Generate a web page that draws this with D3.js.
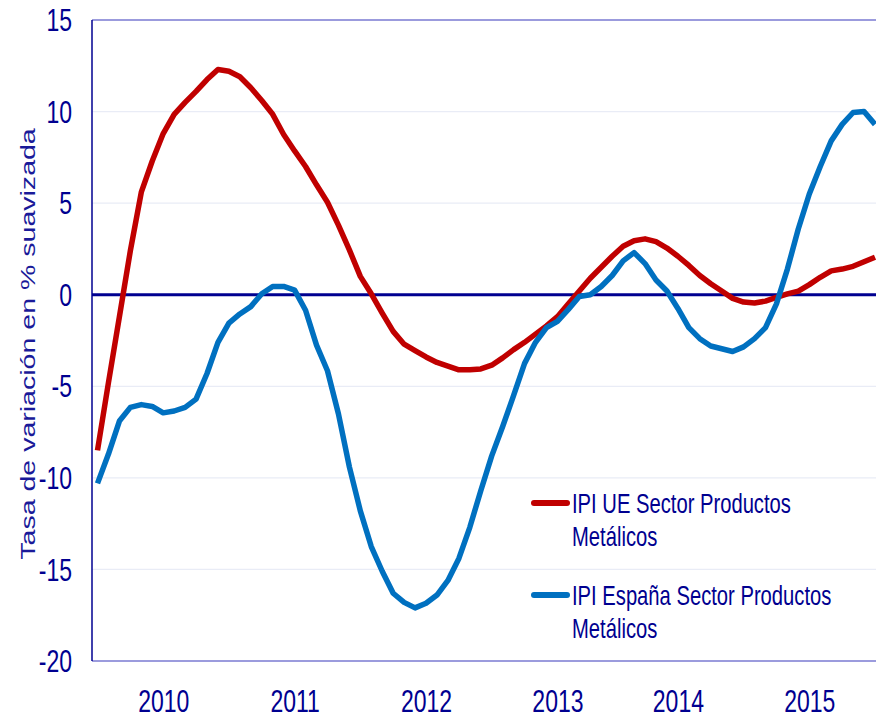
<!DOCTYPE html>
<html><head><meta charset="utf-8">
<script src="https://cdn.jsdelivr.net/npm/d3@7"></script>
<style>html,body{margin:0;padding:0;background:#fff;} svg{display:block;font-family:"Liberation Sans",Arial,sans-serif;}</style>
</head><body>
<svg id="chart" width="876" height="718"></svg>
<script>
// ---- data ----
const years = ["2010", "2011", "2012", "2013", "2014", "2015"];
const yearTickIndex = [6, 18, 30, 42, 53, 65];
const yTicks = [15, 10, 5, 0, -5, -10, -15, -20];
const yTitle = "Tasa de variación en % suavizada";
const legendUE = ["IPI UE Sector Productos", "Metálicos"];
const legendES = ["IPI España Sector Productos", "Metálicos"];
const months = years.flatMap(y => ["01","02","03","04","05","06","07","08","09","10","11","12"].map(m => y + "-" + m));
const ipiUE = [
  -8.5, -4.8, -1.2, 2.4, 5.6, 7.3, 8.8, 9.85, 10.5, 11.1,
  11.75, 12.3, 12.2, 11.9, 11.3, 10.6, 9.85, 8.75, 7.85, 7.0,
  6.0, 5.05, 3.8, 2.45, 1.0, 0.05, -1.0, -2.0, -2.7, -3.05,
  -3.4, -3.7, -3.9, -4.1, -4.1, -4.05, -3.85, -3.45, -3.0, -2.6,
  -2.15, -1.7, -1.2, -0.5, 0.2, 0.9, 1.5, 2.1, 2.65, 2.95,
  3.05, 2.9, 2.55, 2.1, 1.6, 1.05, 0.6, 0.2, -0.2, -0.4,
  -0.45, -0.35, -0.15, 0.05, 0.2, 0.55, 0.95, 1.3, 1.4, 1.55,
  1.8, 2.05
];
const ipiEspana = [
  -10.3, -8.7, -6.9, -6.15, -6.0, -6.1, -6.45, -6.35, -6.15, -5.7,
  -4.3, -2.6, -1.55, -1.05, -0.65, 0.05, 0.45, 0.45, 0.25, -0.85,
  -2.75, -4.15, -6.5, -9.4, -11.8, -13.75, -15.1, -16.3, -16.8, -17.1,
  -16.85, -16.4, -15.6, -14.4, -12.7, -10.7, -8.8, -7.2, -5.5, -3.75,
  -2.6, -1.8, -1.45, -0.8, -0.1, 0.0, 0.45, 1.05, 1.85, 2.3,
  1.7, 0.8, 0.2, -0.75, -1.8, -2.4, -2.8, -2.95, -3.1, -2.85,
  -2.4, -1.8, -0.5, 1.4, 3.6, 5.5, 7.0, 8.4, 9.3, 9.95,
  10.0, 9.3
];

// ---- styles ----
const navy = "#000090";
const red = "#c00000";
const blue = "#0070c0";
const SY = 1.36; // vertical text stretch

const svg = d3.select("#chart");
const plotLeft = 92, plotRight = 876, plotTop = 20, plotBottom = 661;

const x = d3.scaleLinear().domain([0, months.length - 1]).range([97.5, 875]);
const y = d3.scaleLinear().domain([-20, 15]).range([plotBottom, plotTop]);

// gridlines
svg.append("g").selectAll("line")
  .data(yTicks.filter(d => d !== 0 && d !== 15 && d !== -20))
  .join("line")
  .attr("x1", plotLeft).attr("x2", plotRight)
  .attr("y1", d => y(d)).attr("y2", d => y(d))
  .attr("stroke", "#e9ecf6").attr("stroke-width", 1.3);

// frame top / bottom
[15, -20].forEach(v => {
  svg.append("line").attr("x1", plotLeft).attr("x2", plotRight)
    .attr("y1", y(v)).attr("y2", y(v))
    .attr("stroke", "#7a7ad2").attr("stroke-width", 1.3);
});

// zero line
svg.append("line").attr("x1", plotLeft).attr("x2", plotRight)
  .attr("y1", y(0)).attr("y2", y(0))
  .attr("stroke", navy).attr("stroke-width", 3);

// left axis line
svg.append("line").attr("x1", plotLeft).attr("x2", plotLeft)
  .attr("y1", plotTop).attr("y2", plotBottom)
  .attr("stroke", navy).attr("stroke-width", 1.5);

// y axis labels
const yAxis = svg.append("g").attr("transform", `translate(${plotLeft},0)`)
  .call(d3.axisLeft(y).tickValues(yTicks).tickSize(0).tickPadding(20).tickFormat(d => String(d)));
yAxis.select(".domain").remove();
yAxis.selectAll("text")
  .attr("fill", navy).attr("font-size", 23)
  .attr("font-family", "Liberation Sans, Arial, sans-serif")
  .attr("dy", "0.34em")
  .attr("transform", `scale(1,${SY})`);

// x axis labels
const xAxis = svg.append("g").attr("transform", `translate(0,${plotBottom})`)
  .call(d3.axisBottom(x).tickValues(yearTickIndex).tickSize(0).tickFormat((d, i) => years[i]));
xAxis.select(".domain").remove();
xAxis.selectAll("text")
  .attr("fill", navy).attr("font-size", 23)
  .attr("font-family", "Liberation Sans, Arial, sans-serif")
  .attr("y", 51 / SY).attr("dy", null)
  .attr("transform", `scale(1,${SY})`);

// y title
svg.append("text")
  .attr("transform", `translate(35,344) rotate(-90) scale(${SY},1)`)
  .attr("text-anchor", "middle")
  .attr("fill", "#1a1a99").attr("font-size", 21)
  .text(yTitle);

// lines
const line = d3.line().x((d, i) => x(i)).y(d => y(d));
svg.append("path").datum(ipiUE).attr("d", line)
  .attr("fill", "none").attr("stroke", red).attr("stroke-width", 5.5)
  .attr("stroke-linejoin", "round");
svg.append("path").datum(ipiEspana).attr("d", line)
  .attr("fill", "none").attr("stroke", blue).attr("stroke-width", 5.5)
  .attr("stroke-linejoin", "round");

// legend
const legendItems = [
  { color: red, lines: legendUE, ly: 503, base: 513 },
  { color: blue, lines: legendES, ly: 595, base: 605 }
];
legendItems.forEach(it => {
  svg.append("line").attr("x1", 534).attr("x2", 567)
    .attr("y1", it.ly).attr("y2", it.ly)
    .attr("stroke", it.color).attr("stroke-width", 6).attr("stroke-linecap", "round");
  it.lines.forEach((t, k) => {
    svg.append("g").attr("transform", `translate(572,${it.base + k * 32.5}) scale(1,${SY})`)
      .append("text").attr("fill", navy).attr("font-size", 20.2).text(t);
  });
});
</script>
</body></html>
